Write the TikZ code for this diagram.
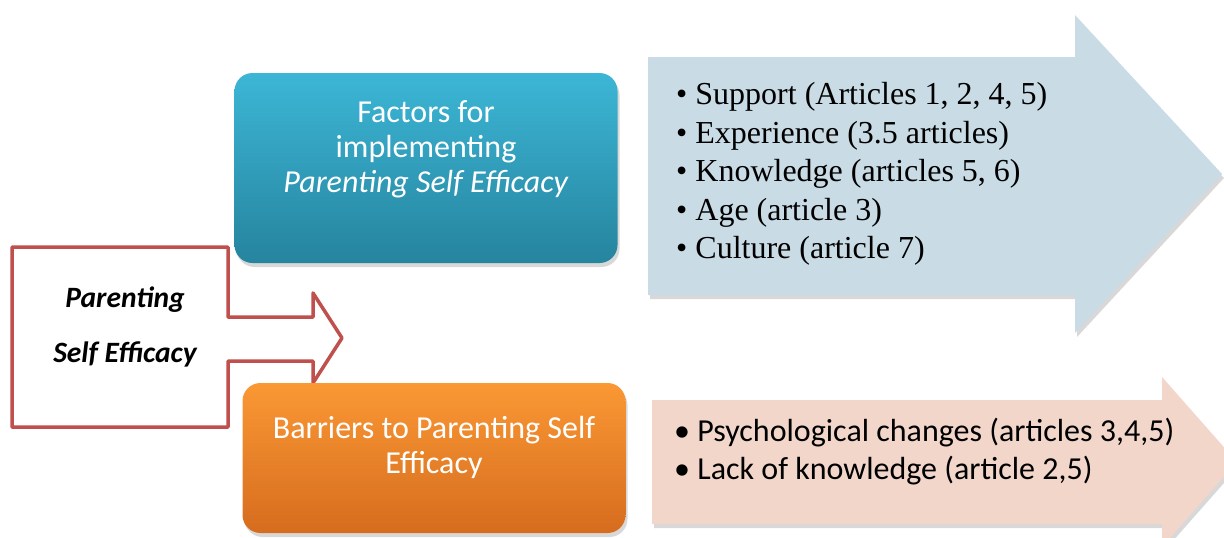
\documentclass[tikz,border=0pt]{standalone}
\usepackage{fontspec}
\setmainfont{Liberation Serif}
\newfontfamily\calibri{Carlito}
\usetikzlibrary{shadows,positioning}

\definecolor{tealtop}{RGB}{60,182,214}
\definecolor{tealbot}{RGB}{38,132,158}
\definecolor{orangetop}{RGB}{250,152,52}
\definecolor{orangebot}{RGB}{214,108,30}
\definecolor{calloutred}{RGB}{192,80,77}
\definecolor{paleblue}{RGB}{201,219,229}
\definecolor{palepink}{RGB}{242,214,202}

\begin{document}
\begin{tikzpicture}[x=1pt, y=-1pt,
  every node/.style = {align=center, inner sep=0pt},
  shadowed/.style = {drop shadow={opacity=0.3, shadow xshift=2pt, shadow yshift=-4pt}},
  roundbox/.style = {shape=rectangle, rounded corners=18pt, shadowed,
    minimum width=383pt, minimum height=#1},
  boxtext/.style = {text=white, font=\calibri\fontsize{32}{35}\selectfont},
  listtext/.style = {align=left, anchor=west}]
  \clip (0,0) rectangle (1224,538);
  \fill[white] (0,0) rectangle (1224,538);

  % list arrows
  \fill[paleblue, shadowed] (648,57) -- (1075,57) -- (1075,15) -- (1222,174)
    -- (1075,333) -- (1075,295) -- (648,295) -- cycle;
  \fill[palepink, shadowed] (652,400) -- (1162,400) -- (1162,377) -- (1237,462)
    -- (1162,547) -- (1162,524) -- (652,524) -- cycle;

  % callout
  \draw[calloutred, line width=3.5pt, line join=round, fill=white]
    (12,247) -- (228,247) -- (228,317) -- (313,317) -- (313,293) -- (342,338)
    -- (313,383) -- (313,361) -- (228,361) -- (228,427) -- (12,427) -- cycle;
  \node[font=\calibri\bfseries\itshape\fontsize{29.5}{55}\selectfont] (pse) at (125,327)
    {Parenting\\Self Efficacy};

  % category boxes
  \node[roundbox=190pt, top color=tealtop, bottom color=tealbot] (factors) at (426,168) {};
  \node[boxtext] (factorstext) at (426,149)
    {Factors for\\implementing\\\textit{Parenting Self Efficacy}};
  \node[roundbox=150pt, top color=orangetop, bottom color=orangebot] (barriers) at (434,458) {};
  \node[boxtext] (barrierstext) at (434,447)
    {Barriers to Parenting Self\\Efficacy};

  % lists
  \node[listtext, font=\fontsize{32}{38.5}\selectfont] (factorlist) at (676,174)
    {• Support (Articles 1, 2, 4, 5)\\
     • Experience (3.5 articles)\\
     • Knowledge (articles 5, 6)\\
     • Age (article 3)\\
     • Culture (article 7)};
  \node[listtext, font=\calibri\fontsize{32}{38}\selectfont] (barrierlist) at (674,452)
    {• Psychological changes (articles 3,4,5)\\
     • Lack of knowledge (article 2,5)};
\end{tikzpicture}
\end{document}
